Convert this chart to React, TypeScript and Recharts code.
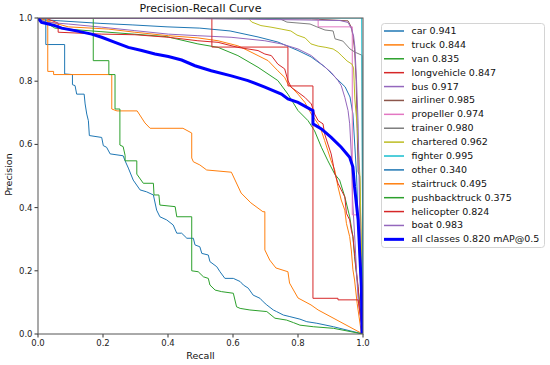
import React from 'react';
import { LineChart, Line, XAxis, YAxis } from 'recharts';

type Pt = [number, number];

// [recall, precision] pairs
const car: Pt[] = [[0,1],[0.022,0.994],[0.068,0.991],[0.191,0.983],[0.292,0.978],[0.397,0.972],[0.498,0.968],[0.591,0.959],[0.677,0.94],[0.738,0.924],[0.8,0.897],[0.84,0.877],[0.883,0.845],[0.914,0.813],[0.945,0.782],[0.96,0.75],[0.969,0.696],[0.975,0.592],[0.98,0.506],[0.985,0.361],[0.991,0.203],[1,0]];
const truck: Pt[] = [[0,1],[0.03,0.99],[0.093,0.972],[0.216,0.965],[0.298,0.955],[0.401,0.944],[0.492,0.937],[0.554,0.928],[0.615,0.912],[0.646,0.897],[0.677,0.881],[0.708,0.865],[0.738,0.833],[0.759,0.812],[0.769,0.791],[0.785,0.775],[0.8,0.759],[0.821,0.733],[0.841,0.696],[0.862,0.665],[0.872,0.643],[0.882,0.612],[0.892,0.58],[0.902,0.548],[0.913,0.519],[0.923,0.466],[0.933,0.424],[0.944,0.392],[0.949,0.35],[0.959,0.308],[0.964,0.266],[0.969,0.203],[0.974,0.171],[0.982,0.097],[0.995,0.003],[1,0]];
const van: Pt[] = [[0,1],[0.022,0.987],[0.052,0.968],[0.191,0.957],[0.396,0.941],[0.492,0.918],[0.554,0.907],[0.615,0.881],[0.677,0.844],[0.738,0.802],[0.769,0.759],[0.8,0.707],[0.831,0.675],[0.851,0.643],[0.872,0.591],[0.892,0.548],[0.913,0.506],[0.928,0.487],[0.944,0.434],[0.959,0.371],[0.969,0.308],[0.974,0.245],[0.982,0.171],[0.99,0.097],[1,0]];
const longvehicle: Pt[] = [[0,1],[0.022,1],[0.062,0.984],[0.062,0.955],[0.196,0.949],[0.298,0.947],[0.401,0.939],[0.492,0.928],[0.554,0.923],[0.615,0.907],[0.677,0.897],[0.698,0.886],[0.718,0.881],[0.738,0.854],[0.759,0.839],[0.769,0.802],[0.779,0.781],[0.8,0.765],[0.821,0.749],[0.841,0.728],[0.851,0.696],[0.862,0.675],[0.877,0.665],[0.882,0.633],[0.892,0.601],[0.902,0.57],[0.908,0.538],[0.913,0.509],[0.923,0.477],[0.933,0.456],[0.944,0.434],[0.949,0.382],[0.959,0.361],[0.964,0.329],[0.969,0.308],[0.974,0.255],[0.979,0.203],[0.985,0.15],[0.99,0.076],[1,0]];
const bus: Pt[] = [[0,1],[0.022,0.987],[0.093,0.981],[0.196,0.971],[0.298,0.96],[0.401,0.949],[0.492,0.944],[0.594,0.939],[0.698,0.928],[0.749,0.918],[0.8,0.902],[0.841,0.881],[0.872,0.854],[0.902,0.828],[0.923,0.802],[0.933,0.786],[0.944,0.749],[0.954,0.707],[0.959,0.665],[0.965,0.551],[0.968,0.424],[0.975,0.297],[0.985,0.108],[1,0]];
const airliner: Pt[] = [[0,1],[0.841,0.997],[0.954,0.991],[0.964,0.971],[0.969,0.944],[0.974,0.9],[0.979,0.8],[0.982,0.65],[0.985,0.513],[0.99,0.5],[1,0]];
const propeller: Pt[] = [[0,1],[0.862,1],[0.862,0.972],[0.967,0.972],[0.967,0.377],[0.983,0.377],[1,0]];
const trainer: Pt[] = [[0,1],[0.714,1],[0.745,0.997],[0.766,0.987],[0.837,0.981],[0.858,0.972],[0.883,0.962],[0.908,0.959],[0.914,0.934],[0.938,0.927],[0.96,0.902],[0.975,0.892],[0.997,0.882],[1,0]];
const chartered: Pt[] = [[0,1],[0.646,1],[0.658,0.987],[0.686,0.976],[0.717,0.971],[0.748,0.965],[0.778,0.959],[0.797,0.946],[0.822,0.937],[0.84,0.918],[0.862,0.911],[0.886,0.907],[0.908,0.902],[0.923,0.892],[0.935,0.88],[0.951,0.864],[0.966,0.854],[0.971,0.842],[0.975,0.741],[0.982,0.661],[0.988,0.551],[0.991,0.487],[1,0]];
const fighter: Pt[] = [[0,1],[0.996,1],[1,0]];
const other: Pt[] = [[0,1],[0.024,1],[0.024,0.916],[0.082,0.916],[0.082,0.823],[0.106,0.821],[0.106,0.789],[0.114,0.786],[0.119,0.759],[0.142,0.759],[0.145,0.728],[0.15,0.696],[0.155,0.675],[0.158,0.628],[0.196,0.622],[0.201,0.596],[0.211,0.591],[0.222,0.57],[0.262,0.564],[0.268,0.548],[0.278,0.525],[0.293,0.487],[0.314,0.456],[0.334,0.45],[0.355,0.44],[0.365,0.392],[0.375,0.371],[0.396,0.361],[0.416,0.345],[0.427,0.319],[0.442,0.319],[0.458,0.303],[0.478,0.303],[0.483,0.282],[0.498,0.276],[0.504,0.255],[0.524,0.25],[0.529,0.229],[0.55,0.213],[0.56,0.197],[0.575,0.176],[0.601,0.176],[0.622,0.166],[0.632,0.155],[0.647,0.145],[0.662,0.123],[0.683,0.113],[0.693,0.102],[0.704,0.092],[0.724,0.076],[0.734,0.071],[0.755,0.06],[0.775,0.055],[0.806,0.047],[0.827,0.039],[0.858,0.034],[0.909,0.023],[1,0]];
const stairtruck: Pt[] = [[0,1],[0.03,1],[0.03,0.831],[0.048,0.831],[0.048,0.821],[0.227,0.821],[0.227,0.712],[0.243,0.706],[0.305,0.706],[0.329,0.668],[0.345,0.651],[0.446,0.651],[0.473,0.636],[0.473,0.557],[0.478,0.545],[0.498,0.535],[0.519,0.519],[0.595,0.512],[0.625,0.446],[0.655,0.415],[0.692,0.387],[0.698,0.387],[0.698,0.266],[0.713,0.234],[0.732,0.209],[0.769,0.197],[0.774,0.161],[0.8,0.114],[0.84,0.092],[0.862,0.076],[0.994,0.003],[1,0]];
const pushbacktruck: Pt[] = [[0,1],[0.17,1],[0.17,0.865],[0.218,0.865],[0.218,0.821],[0.237,0.821],[0.237,0.712],[0.252,0.712],[0.252,0.598],[0.262,0.593],[0.268,0.565],[0.268,0.548],[0.304,0.548],[0.304,0.506],[0.324,0.477],[0.355,0.477],[0.357,0.44],[0.372,0.44],[0.375,0.408],[0.422,0.403],[0.427,0.371],[0.473,0.371],[0.473,0.2],[0.493,0.197],[0.509,0.181],[0.524,0.176],[0.529,0.155],[0.545,0.139],[0.565,0.134],[0.601,0.129],[0.611,0.086],[0.622,0.081],[0.652,0.076],[0.704,0.071],[0.729,0.05],[0.765,0.044],[0.786,0.036],[0.806,0.028],[0.847,0.023],[0.909,0.018],[1,0]];
const helicopter: Pt[] = [[0,1],[0.535,1],[0.535,0.908],[0.769,0.908],[0.769,0.785],[0.846,0.785],[0.846,0.113],[0.923,0.113],[0.923,0.108],[0.985,0.108],[1,0]];
const boat: Pt[] = [[0,1],[0.498,0.998],[0.806,0.994],[0.929,0.992],[0.954,0.986],[0.965,0.965],[0.971,0.943],[0.975,0.908],[0.98,0.804],[0.985,0.665],[0.989,0.424],[0.994,0.171],[1,0]];
const allClasses: Pt[] = [[0,1],[0.011,0.986],[0.032,0.981],[0.052,0.976],[0.073,0.968],[0.114,0.96],[0.165,0.949],[0.196,0.939],[0.237,0.923],[0.278,0.907],[0.319,0.897],[0.36,0.886],[0.401,0.878],[0.442,0.867],[0.483,0.849],[0.533,0.833],[0.595,0.817],[0.646,0.802],[0.698,0.781],[0.749,0.759],[0.769,0.744],[0.8,0.733],[0.846,0.707],[0.846,0.665],[0.872,0.649],[0.902,0.622],[0.933,0.591],[0.959,0.559],[0.969,0.528],[0.974,0.466],[0.985,0.361],[0.99,0.255],[0.995,0.15],[0.997,0.002]];

const classNames = ['car','truck','van','longvehicle','bus','airliner','propeller','trainer','chartered','fighter','other','stairtruck','pushbacktruck','helicopter','boat'];
const apValues = [0.941,0.844,0.835,0.847,0.917,0.985,0.974,0.98,0.962,0.995,0.34,0.495,0.375,0.824,0.983];
const mapAll = 0.82;
const axisTicks = [0,0.2,0.4,0.6,0.8,1.0];

const curves = [car,truck,van,longvehicle,bus,airliner,propeller,trainer,chartered,fighter,other,stairtruck,pushbacktruck,helicopter,boat];
const palette = ['#1f77b4','#ff7f0e','#2ca02c','#d62728','#9467bd','#8c564b','#e377c2','#7f7f7f','#bcbd22','#17becf'];

const FONT = '"DejaVu Sans", Verdana, sans-serif';

export default function App() {
  const toData = (pts: Pt[]) => pts.map(([r, p]) => ({ r, p }));
  const legendItems = classNames.map((n, i) => ({
    label: `${n} ${apValues[i].toFixed(3)}`,
    color: palette[i % 10],
    w: 1.5,
  }));
  legendItems.push({ label: `all classes ${mapAll.toFixed(3)} mAP@0.5`, color: '#0000ff', w: 3 });

  return (
    <div style={{ position: 'absolute', left: 0, top: 0, width: 550, height: 365, background: '#fff', fontFamily: FONT }}>
      <LineChart width={550} height={365} margin={{ top: 18, right: 187, bottom: 0, left: 0 }}>
        <XAxis
          type="number"
          dataKey="r"
          domain={[0, 1]}
          ticks={axisTicks}
          tickFormatter={(v: number) => v.toFixed(1)}
          height={31}
          tickSize={3.5}
          tickMargin={2}
          axisLine={false}
          tickLine={{ stroke: '#333' }}
          tick={{ fontSize: 8.5, fill: '#222', fontFamily: FONT }}
          allowDataOverflow
        />
        <YAxis
          type="number"
          dataKey="p"
          domain={[0, 1]}
          ticks={axisTicks}
          tickFormatter={(v: number) => v.toFixed(1)}
          width={38}
          tickSize={3.5}
          tickMargin={2}
          axisLine={false}
          tickLine={{ stroke: '#333' }}
          tick={{ fontSize: 8.5, fill: '#222', fontFamily: FONT }}
          allowDataOverflow
        />
        {curves.map((pts, i) => (
          <Line
            key={classNames[i]}
            data={toData(pts)}
            dataKey="p"
            type="linear"
            stroke={palette[i % 10]}
            strokeWidth={1}
            dot={false}
            activeDot={false}
            isAnimationActive={false}
          />
        ))}
        <Line
          data={toData(allClasses)}
          dataKey="p"
          type="linear"
          stroke="#0000ff"
          strokeWidth={3}
          dot={false}
          activeDot={false}
          isAnimationActive={false}
        />
      </LineChart>

      <svg width={550} height={365} style={{ position: 'absolute', left: 0, top: 0, pointerEvents: 'none' }}>
        <rect x={38} y={18} width={325} height={316} fill="none" stroke="#555" strokeWidth={1} />
        <rect x={381.5} y={23.5} width={163} height={224} rx={3} fill="none" stroke="#d4d4d4" strokeWidth={1} />
        {legendItems.map((it, i) => {
          const cy = 31 + 13.89 * i;
          return <line key={it.label} x1={384} x2={404} y1={cy} y2={cy} stroke={it.color} strokeWidth={it.w} />;
        })}
      </svg>

      <div style={{ position: 'absolute', left: 38, width: 325, top: 2, textAlign: 'center', fontSize: 11, color: '#111' }}>
        Precision-Recall Curve
      </div>
      <div style={{ position: 'absolute', left: 38, width: 325, top: 350, textAlign: 'center', fontSize: 9.5, color: '#111' }}>
        Recall
      </div>
      <div
        style={{
          position: 'absolute',
          left: 8 - 40,
          top: 176 - 7,
          width: 80,
          textAlign: 'center',
          fontSize: 9.5,
          color: '#111',
          transform: 'rotate(-90deg)',
        }}
      >
        Precision
      </div>

      {legendItems.map((it, i) => {
        const cy = 31 + 13.89 * i;
        return (
          <div
            key={it.label}
            style={{ position: 'absolute', left: 411.5, top: cy - 7, height: 14, lineHeight: '14px', fontSize: 9.5, color: '#111', whiteSpace: 'nowrap' }}
          >
            {it.label}
          </div>
        );
      })}
    </div>
  );
}
